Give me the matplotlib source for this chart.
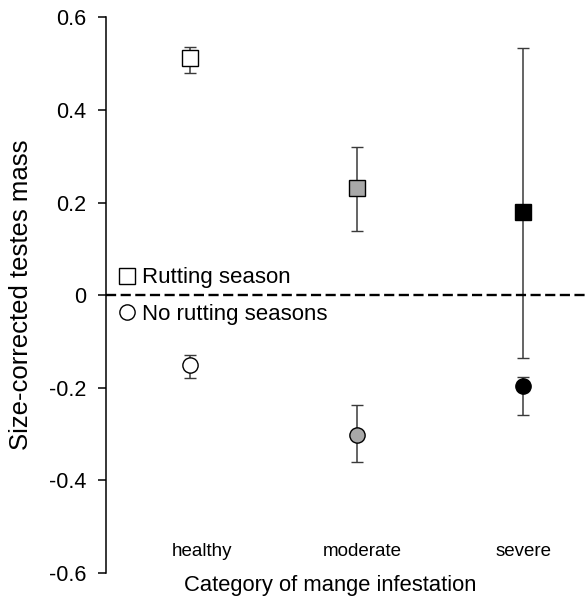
import matplotlib
matplotlib.use("Agg")
import matplotlib.pyplot as plt
from matplotlib.lines import Line2D

plt.rcParams['font.family'] = ['Liberation Sans', 'DejaVu Sans']

# categorias e valores
categorias = ['healthy', 'moderate', 'severe']
rut_media = [0.513, 0.231, 0.180]
rut_sup = [0.536, 0.320, 0.534]
rut_inf = [0.481, 0.138, -0.136]
norut_media = [-0.151, -0.301, -0.195]
norut_sup = [-0.130, -0.238, -0.177]
norut_inf = [-0.178, -0.360, -0.258]
cores = ['white', '#a8a8a8', 'black']
yticks = [-0.6, -0.4, -0.2, 0, 0.2, 0.4, 0.6]
ytick_labels = ['-0.6', '-0.4', '-0.2', '0', '0.2', '0.4', '0.6']

fig = plt.figure(figsize=(5.85, 5.99), dpi=100)
ax = fig.add_axes([0.181, 0.0434, 0.819, 0.9274])

x = [1, 2, 3]
for i in range(3):
    ax.errorbar(x[i], rut_media[i],
                yerr=[[rut_media[i] - rut_inf[i]], [rut_sup[i] - rut_media[i]]],
                fmt='s', ms=11, mfc=cores[i], mec='black', mew=1.0,
                ecolor='#3a3a3a', elinewidth=1.1, capsize=4.2, capthick=1.1, zorder=3)
    ax.errorbar(x[i], norut_media[i],
                yerr=[[norut_media[i] - norut_inf[i]], [norut_sup[i] - norut_media[i]]],
                fmt='o', ms=11, mfc=cores[i], mec='black', mew=1.0,
                ecolor='#3a3a3a', elinewidth=1.1, capsize=4.2, capthick=1.1, zorder=3)

# linha em zero
ax.axhline(0, color='black', lw=1.7, dashes=(4.3, 1.9), zorder=4)

ax.set_xlim(0.495, 3.372)
ax.set_ylim(-0.6, 0.6)
ax.set_yticks(yticks)
ax.set_yticklabels(ytick_labels, fontsize=15.5)
ax.tick_params(axis='y', direction='out', length=5.8, width=1.1, pad=8)
ax.set_xticks([])
for s in ['top', 'right', 'bottom']:
    ax.spines[s].set_visible(False)
ax.spines['left'].set_linewidth(1.1)

deslocamento = [0.072, 0.033, 0.0]
for i, c in enumerate(categorias):
    ax.text(x[i] + deslocamento[i], -0.564, c, ha='center', va='baseline', fontsize=13.5)

ax.set_ylabel('Size-corrected testes mass', fontsize=18.5)
ax.yaxis.set_label_coords(-0.152, 0.5)
ax.text(0.468, -0.0324, 'Category of mange infestation', transform=ax.transAxes,
        ha='center', va='baseline', fontsize=15.8)

# legenda
handles = [
    Line2D([], [], ls='none', marker='s', ms=11, mfc='white', mec='black', mew=1.0),
    Line2D([], [], ls='none', marker='o', ms=11, mfc='white', mec='black', mew=1.0),
]
ax.legend(handles, ['Rutting season', 'No rutting seasons'], loc='center left',
          bbox_to_anchor=(0.0125, 0.4985), frameon=False, fontsize=16, handlelength=0.75,
          handletextpad=0.3, labelspacing=0.7, borderpad=0, borderaxespad=0.3)

fig.savefig('out.png', dpi=100)
